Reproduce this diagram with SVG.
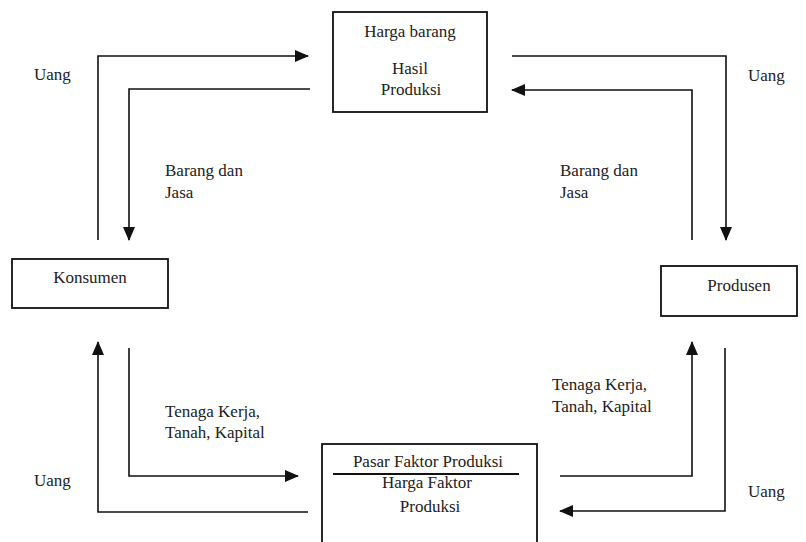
<svg xmlns="http://www.w3.org/2000/svg" width="806" height="542" viewBox="0 0 806 542">
<style>
.box{fill:#fff;stroke:#111;stroke-width:1.8}
.t{font-size:17px;fill:#222}
.m{text-anchor:middle}
.c{fill:none;stroke:#111;stroke-width:1.6}
</style>
<defs>
<marker id="ah" markerUnits="userSpaceOnUse" markerWidth="14" markerHeight="12" viewBox="0 0 14 12" refX="13" refY="6" orient="auto">
<path d="M0,0 L14,6 L0,12 Z" fill="#111"/>
</marker>
</defs>
<rect width="806" height="542" fill="#fff"/>
<g id="connectors">
<path class="c" d="M98,240 V56 H308" marker-end="url(#ah)"/>
<path class="c" d="M310,89 H129 V240" marker-end="url(#ah)"/>
<path class="c" d="M512,56 H726 V240" marker-end="url(#ah)"/>
<path class="c" d="M692,240 V90 H512" marker-end="url(#ah)"/>
<path class="c" d="M129,348 V476 H298" marker-end="url(#ah)"/>
<path class="c" d="M308,512 H98 V342" marker-end="url(#ah)"/>
<path class="c" d="M560,476 H692 V342" marker-end="url(#ah)"/>
<path class="c" d="M725,348 V511 H560" marker-end="url(#ah)"/>
</g>
<g font-family="Liberation Serif, DejaVu Serif, serif">
<g id="labels">
<text class="t" x="34" y="80">Uang</text>
<text class="t" x="748" y="81">Uang</text>
<text class="t" x="34" y="486">Uang</text>
<text class="t" x="748" y="497">Uang</text>
<text class="t" x="165" y="176">Barang dan</text>
<text class="t" x="165" y="198">Jasa</text>
<text class="t" x="560" y="176">Barang dan</text>
<text class="t" x="560" y="198">Jasa</text>
<text class="t" x="165" y="417">Tenaga Kerja,</text>
<text class="t" x="165" y="438">Tanah, Kapital</text>
<text class="t" x="552" y="390">Tenaga Kerja,</text>
<text class="t" x="552" y="412">Tanah, Kapital</text>
</g>
<g id="hasil-produksi">
<rect class="box" x="333" y="12" width="154" height="100"/>
<text class="t m" x="410" y="37">Harga barang</text>
<text class="t m" x="410" y="74">Hasil</text>
<text class="t m" x="411" y="95">Produksi</text>
</g>
<g id="konsumen">
<rect class="box" x="12" y="259" width="156" height="49"/>
<text class="t m" x="90" y="283">Konsumen</text>
</g>
<g id="produsen">
<rect class="box" x="661" y="266" width="136" height="50"/>
<text class="t m" x="739" y="291">Produsen</text>
</g>
<g id="pasar-faktor-produksi">
<rect class="box" x="322" y="444" width="215" height="110"/>
<text class="t m" x="428" y="467">Pasar Faktor Produksi</text>
<line x1="333" y1="474" x2="519" y2="474" stroke="#111" stroke-width="2"/>
<text class="t m" x="427" y="488">Harga Faktor</text>
<text class="t m" x="430" y="512">Produksi</text>
</g>
</g>
</svg>
